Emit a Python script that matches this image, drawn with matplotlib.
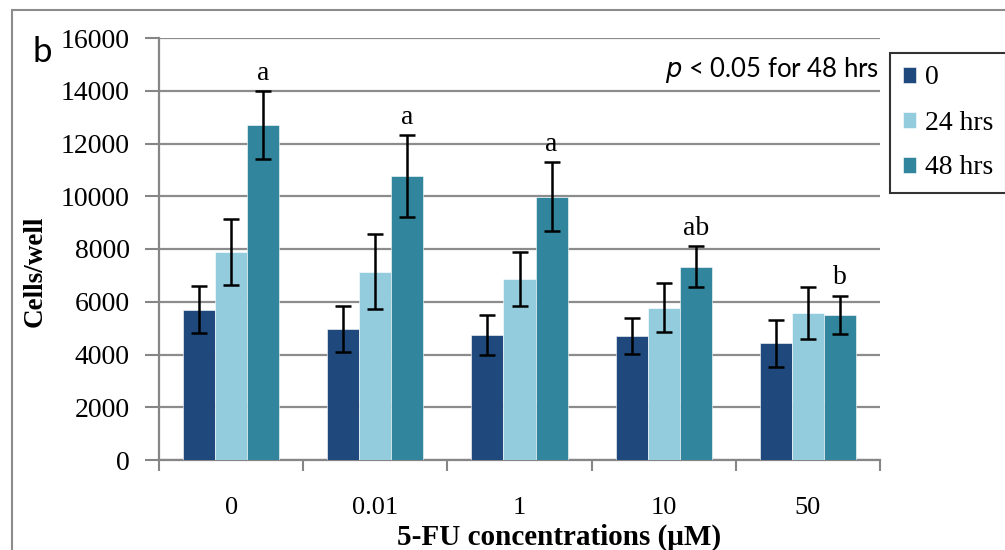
import matplotlib.pyplot as plt
import numpy as np
from matplotlib.patches import Rectangle

# 5-FU concentrations and cell counts
concs = ['0', '0.01', '1', '10', '50']
series = ['0', '24 hrs', '48 hrs']
colors = ['#1F497D', '#93CDDD', '#31859C']

vals_0 = [5700, 4980, 4740, 4690, 4420]
vals_24 = [7890, 7140, 6850, 5780, 5560]
vals_48 = [12700, 10770, 9980, 7330, 5500]

err_0 = [900, 870, 770, 680, 885]
err_24 = [1250, 1430, 1030, 915, 985]
err_48 = [1280, 1560, 1310, 770, 735]

letters = ['a', 'a', 'a', 'ab', 'b']

serif = ['Liberation Serif', 'DejaVu Serif']
sans = ['Lato', 'DejaVu Sans']

fig = plt.figure(figsize=(10.05, 5.5), dpi=100)
ax = fig.add_axes([159 / 1005, 1 - 460 / 550, (880 - 159) / 1005, (460 - 38) / 550])

x = np.arange(len(concs))
w = 0.222
all_vals = [vals_0, vals_24, vals_48]
all_errs = [err_0, err_24, err_48]
for i in range(3):
    pos = x + (i - 1) * w
    ax.bar(pos, all_vals[i], w, color=colors[i], label=series[i],
           edgecolor='white', linewidth=0.4, zorder=3)
    ax.errorbar(pos, all_vals[i], yerr=all_errs[i], fmt='none', ecolor='black',
                elinewidth=1.8, capsize=6, capthick=1.8, zorder=4)

for xi, v, e, t in zip(x, vals_48, err_48, letters):
    ax.text(xi + w, v + e + 200, t, ha='center', va='bottom',
            fontsize=20, family=serif)

ax.set_xlim(-0.5, len(concs) - 0.5)
ax.set_ylim(0, 16000)
ax.set_yticks(range(0, 16001, 2000))
ax.set_xticks(x)
ax.set_xticklabels(concs, family=serif, fontsize=19)
ax.set_xticks(np.arange(-0.5, len(concs), 1), minor=True)
ax.tick_params(axis='x', which='major', length=0, pad=27)
ax.tick_params(axis='x', which='minor', length=8, width=1.5, color='#868686')
ax.tick_params(axis='y', length=10, width=1.5, color='#868686', labelsize=20, pad=11)
for lab in ax.get_yticklabels():
    lab.set_family(serif)

ax.grid(axis='y', color='#8c8c8c', linewidth=1.6, zorder=0)
ax.set_axisbelow(True)
for s in ['top', 'right']:
    ax.spines[s].set_visible(False)
for s in ['left', 'bottom']:
    ax.spines[s].set_color('#868686')
    ax.spines[s].set_linewidth(1.6)

ax.set_ylabel('Cells/well', family=serif, fontsize=19.5, fontweight='bold')
ax.yaxis.set_label_coords(-0.154, 0.448)
ax.set_xlabel('5-FU concentrations (\u03bcM)', family=serif, fontsize=21,
              fontweight='bold')
ax.xaxis.set_label_coords(0.555, -0.152)

ax.text(0.998, 0.925, '$\\it{p}$ < 0.05 for 48 hrs', transform=ax.transAxes,
        ha='right', va='center', fontsize=18.5, family=sans)
fig.text(42 / 1005, 1 - 52 / 550, 'b', ha='center', va='center', fontsize=25, family=sans)

leg = ax.legend(loc='upper left', bbox_to_anchor=(890 / 1005, 1 - 53 / 550),
                bbox_transform=fig.transFigure, prop={'family': serif, 'size': 20},
                frameon=True, fancybox=False, edgecolor='black', handlelength=0.5,
                handleheight=0.5, handletextpad=0.3, borderpad=0.45, labelspacing=0.72,
                borderaxespad=0)
leg.get_frame().set_linewidth(1.5)

fig.patches.append(Rectangle((12 / 1005, -0.1), 1.2, 1 - 10 / 550 + 0.1,
                             transform=fig.transFigure, fill=False,
                             edgecolor='#8c8c8c', linewidth=1.5))

fig.savefig('out.png', dpi=100)
